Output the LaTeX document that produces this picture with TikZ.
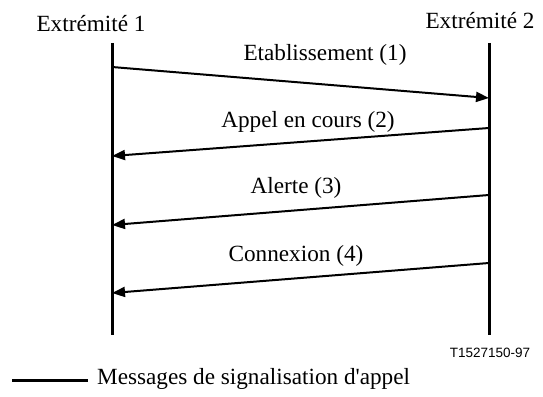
\documentclass[tikz,border=0pt]{standalone}
\usepackage{fontspec}
\setmainfont{Liberation Serif}[Ligatures=TeXReset]
\newfontfamily\labelsans{Liberation Sans}
\usetikzlibrary{arrows.meta}
\begin{document}
\begin{tikzpicture}[x=1pt,y=-1pt,
  lbl/.style={inner sep=0pt,font=\fontsize{23.2}{25}\selectfont},
  lifeline/.style={line width=3pt},
  msg/.style={line width=2pt,-{Triangle[length=13pt,width=10pt]}},
  ref/.style={inner sep=0pt,font=\labelsans\fontsize{13.5}{15}\selectfont}]
\useasboundingbox (0,0) rectangle (543,396);
% headers
\node[lbl] (e1) at (91,24) {Extrémité 1};
\node[lbl] (e2) at (480,21) {Extrémité 2};
% lifelines
\coordinate (l1top) at (112,43);
\coordinate (l1bot) at (112,335);
\coordinate (l2top) at (489,43);
\coordinate (l2bot) at (489,335);
\draw[lifeline] (l1top) -- (l1bot);
\draw[lifeline] (l2top) -- (l2bot);
% message endpoints
\coordinate (a1s) at (112,67);
\coordinate (a1e) at (489,98);
\coordinate (a2s) at (489,128);
\coordinate (a2e) at (112,156);
\coordinate (a3s) at (489,195);
\coordinate (a3e) at (112,225);
\coordinate (a4s) at (489,263);
\coordinate (a4e) at (112,293);
\draw[msg] (a1s) -- (a1e);
\draw[msg] (a2s) -- (a2e);
\draw[msg] (a3s) -- (a3e);
\draw[msg] (a4s) -- (a4e);
% labels
\node[lbl] (m1) at (325,55) {Etablissement (1)};
\node[lbl] (m2) at (308,122) {Appel en cours (2)};
\node[lbl] (m3) at (296,188) {Alerte (3)};
\node[lbl] (m4) at (296,256) {Connexion (4)};
% reference
\node[ref] (tref) at (490,353) {T1527150-97};
% legend
\coordinate (lg1) at (12,380);
\coordinate (lg2) at (88,380);
\draw[line width=3pt] (lg1) -- (lg2);
\node[lbl,anchor=west] (lgt) at (97,379) {Messages de signalisation d'appel};
\end{tikzpicture}
\end{document}
